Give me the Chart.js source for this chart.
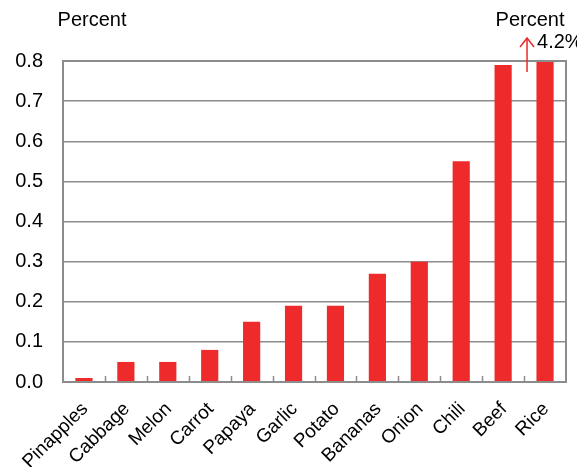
<!DOCTYPE html>
<html>
<head>
<meta charset="utf-8">
<script src="https://cdn.jsdelivr.net/npm/chart.js@4"></script>
<style>
  html, body { margin: 0; padding: 0; background: #fff; }
  #wrap { width: 577px; height: 467px; }
</style>
</head>
<body>
<div id="wrap"><canvas id="chart"></canvas></div>
<script>
// data
const foods = ['Pinapples', 'Cabbage', 'Melon', 'Carrot', 'Papaya', 'Garlic', 'Potato', 'Bananas', 'Onion', 'Chili', 'Beef', 'Rice'];
const percent = [0.01, 0.05, 0.05, 0.08, 0.15, 0.19, 0.19, 0.27, 0.30, 0.55, 0.79, 4.2];
const yMax = 0.8;
const riceLabel = '4.2%';

const gray = '#8c8c8c';
const red = '#ee2a2a';
const font = '"Liberation Sans", Arial, sans-serif';

// frame, inward x ticks, titles and the arrow for the clipped bar
const extras = {
  id: 'extras',
  afterDraw(chart) {
    const ctx = chart.ctx;
    const a = chart.chartArea;
    const x = chart.scales.x;
    ctx.save();
    ctx.strokeStyle = gray;
    ctx.lineWidth = 2;
    ctx.strokeRect(a.left, a.top, a.right - a.left, a.bottom - a.top);

    // little ticks between categories
    const step = (a.right - a.left) / foods.length;
    ctx.lineWidth = 1.5;
    ctx.beginPath();
    for (let i = 1; i < foods.length; i++) {
      const px = Math.round(a.left + i * step) + 0.5;
      ctx.moveTo(px, a.bottom);
      ctx.lineTo(px, a.bottom - 6);
    }
    ctx.stroke();

    ctx.fillStyle = '#000';
    ctx.font = '20px ' + font;
    ctx.textAlign = 'center';
    ctx.textBaseline = 'alphabetic';
    ctx.fillText('Percent', 92, 26);
    ctx.fillText('Percent', 530, 26);

    // arrow
    const ax = x.getPixelForValue(foods.length - 1) - 18;
    ctx.strokeStyle = red;
    ctx.lineWidth = 1.5;
    ctx.beginPath();
    ctx.moveTo(ax, a.top + 11);
    ctx.lineTo(ax, 38);
    ctx.moveTo(ax - 7, 47);
    ctx.lineTo(ax, 38);
    ctx.lineTo(ax + 7, 47);
    ctx.stroke();

    ctx.textAlign = 'left';
    ctx.fillText(riceLabel, ax + 10, 48);
    ctx.restore();
  }
};

new Chart('chart', {
  type: 'bar',
  data: {
    labels: foods,
    datasets: [{
      label: 'Percent',
      data: percent,
      backgroundColor: red,
      borderWidth: 0,
      categoryPercentage: 1,
      barPercentage: 0.41
    }]
  },
  options: {
    responsive: true,
    maintainAspectRatio: false,
    animation: false,
    layout: { padding: { left: 0, top: 61, right: 11, bottom: 0 } },
    plugins: {
      legend: { display: false },
      tooltip: { enabled: false }
    },
    scales: {
      x: {
        grid: { display: false },
        border: { display: false },
        ticks: {
          color: '#000',
          font: { family: font, size: 19 },
          minRotation: 45,
          maxRotation: 45,
          padding: 8,
          labelOffset: 1,
          autoSkip: false
        },
        afterFit(s) { s.height = 85; }
      },
      y: {
        min: 0,
        max: yMax,
        grid: { color: gray, lineWidth: 1.5, drawTicks: false },
        border: { display: false },
        ticks: {
          stepSize: 0.1,
          color: '#000',
          font: { family: font, size: 20 },
          padding: 20,
          callback: v => v.toFixed(1)
        },
        afterFit(s) { s.width = 63; }
      }
    }
  },
  plugins: [extras]
});
</script>
</body>
</html>
